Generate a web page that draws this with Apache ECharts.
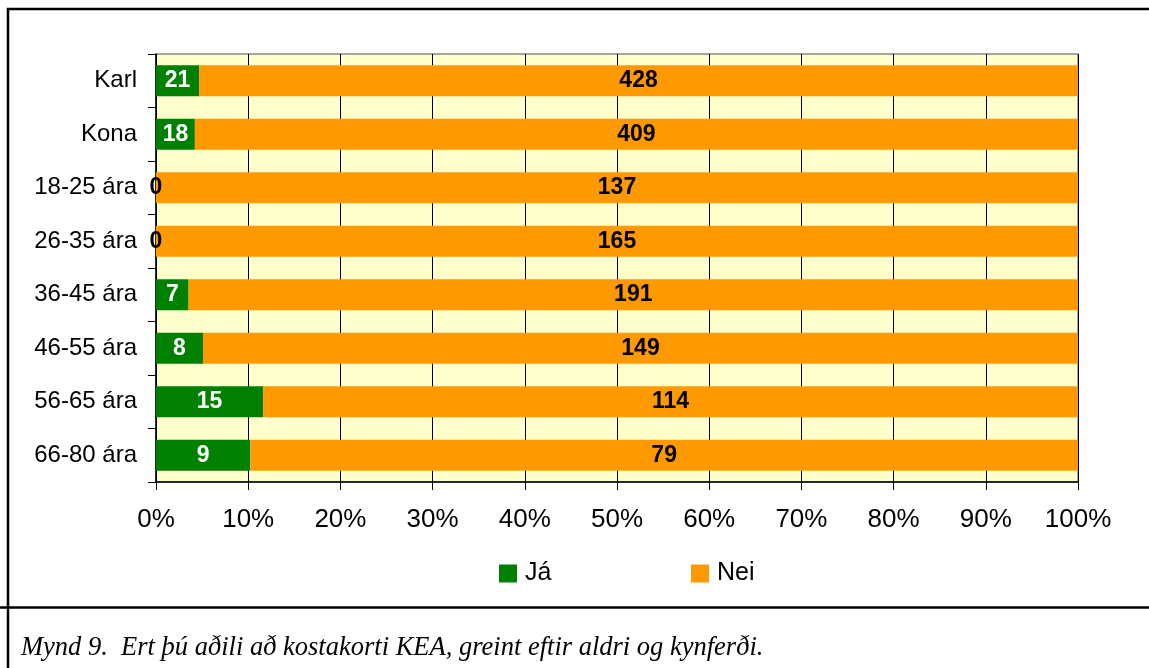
<!DOCTYPE html>
<html>
<head>
<meta charset="utf-8">
<script src="https://cdn.jsdelivr.net/npm/echarts@6/dist/echarts.min.js"></script>
<style>html,body{margin:0;padding:0;background:#fff;}#c{width:1149px;height:668px;}</style>
</head>
<body>
<div id="c"></div>
<script>
var categories = ['Karl', 'Kona', '18-25 ára', '26-35 ára', '36-45 ára', '46-55 ára', '56-65 ára', '66-80 ára'];
var jaValues = [21, 18, 0, 0, 7, 8, 15, 9];
var neiValues = [428, 409, 137, 165, 191, 149, 114, 79];
var xTicks = [0, 10, 20, 30, 40, 50, 60, 70, 80, 90, 100];
var caption = 'Mynd 9.  Ert þú aðili að kostakorti KEA, greint eftir aldri og kynferði.';

function pct(vals, i) { return vals[i] / (jaValues[i] + neiValues[i]) * 100; }

var jaData = jaValues.map(function (v, i) {
  return { value: pct(jaValues, i), raw: v, label: { color: v === 0 ? '#000' : '#fff' } };
});
var neiData = neiValues.map(function (v, i) {
  return { value: pct(neiValues, i), raw: v };
});

var chart = echarts.init(document.getElementById('c'));
var labelBase = { show: true, position: 'inside', fontFamily: 'Arial, Liberation Sans', fontWeight: 'bold', fontSize: 23,
  formatter: function (p) { return p.data.raw; } };

chart.setOption({
  animation: false,
  backgroundColor: '#fff',
  grid: { left: 156, right: 71, top: 54, bottom: 186, show: true, backgroundColor: '#FFFFCC', borderColor: '#888', borderWidth: 1.5 },
  legend: [
    { data: ['Já'], left: 494, top: 556, itemWidth: 18, itemHeight: 18, icon: 'rect',
      textStyle: { fontFamily: 'Arial, Liberation Sans', fontSize: 25, color: '#000', padding: [0, 0, 0, 3] } },
    { data: ['Nei'], left: 686, top: 556, itemWidth: 18, itemHeight: 18, icon: 'rect',
      textStyle: { fontFamily: 'Arial, Liberation Sans', fontSize: 25, color: '#000', padding: [0, 0, 0, 3] } }
  ],
  xAxis: {
    type: 'value', min: 0, max: 100, interval: 10,
    axisLine: { show: true, lineStyle: { color: '#000', width: 1.5 } },
    axisTick: { show: true, length: 8, lineStyle: { color: '#000' } },
    axisLabel: { fontFamily: 'Arial, Liberation Sans', fontSize: 26, color: '#000', margin: 25,
      formatter: function (v) { return xTicks.indexOf(v) >= 0 ? v + '%' : ''; } },
    splitLine: { show: true, lineStyle: { color: '#000', width: 1 } }
  },
  yAxis: {
    type: 'category', data: categories, inverse: true,
    axisLine: { show: true, lineStyle: { color: '#000', width: 1.5 } },
    axisTick: { show: true, length: 8, lineStyle: { color: '#000' } },
    axisLabel: { fontFamily: 'Arial, Liberation Sans', fontSize: 24, color: '#000', margin: 19 }
  },
  series: [
    { name: 'Já', type: 'bar', stack: 's', barWidth: 31, data: jaData, itemStyle: { color: '#008000' },
      label: Object.assign({}, labelBase, { color: '#fff' }) },
    { name: 'Nei', type: 'bar', stack: 's', barWidth: 31, data: neiData, itemStyle: { color: '#FF9900' },
      label: Object.assign({}, labelBase, { color: '#000' }) }
  ],
  graphic: [
    { type: 'rect', silent: true, z: 100, shape: { x: 8, y: 9, width: 1300, height: 800 },
      style: { fill: null, stroke: '#000', lineWidth: 2.5 } },
    { type: 'line', silent: true, z: 100, shape: { x1: 0, y1: 607.5, x2: 1149, y2: 607.5 },
      style: { stroke: '#000', lineWidth: 2.5 } },
    { type: 'text', silent: true, z: 100, x: 21, y: 648,
      style: { text: caption, fontFamily: 'Liberation Serif, Times New Roman, serif', fontStyle: 'italic', fontSize: 26.5, fill: '#000', verticalAlign: 'middle' } }
  ]
});
</script>
</body>
</html>
